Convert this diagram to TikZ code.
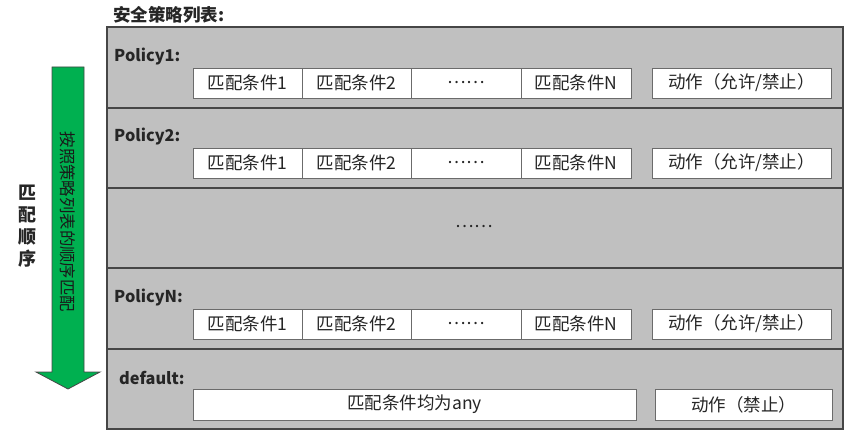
\documentclass[tikz,border=0pt]{standalone}
\usepackage{fontspec}
\usetikzlibrary{fit}
\setmainfont{Noto Sans CJK SC}
\definecolor{panel}{RGB}{192,192,192}
\definecolor{edge}{RGB}{70,70,70}
\definecolor{arrowgreen}{RGB}{0,176,80}
\tikzset{
  row/.style={draw=edge, line width=1.2pt, fill=panel},
  cell/.style={draw=edge!80, line width=0.8pt, fill=white, inner sep=0pt},
  ctext/.style={font=\fontsize{17.5}{19}\selectfont, text=black!85, inner sep=0pt},
  lbl/.style={anchor=west, font=\fontsize{16.3}{18}\selectfont\bfseries, text=black!85, inner sep=0pt},
}
\begin{document}
\begin{tikzpicture}[x=1pt,y=-1pt]
\useasboundingbox (0,0) rectangle (865,438);
% rows
\draw[row] (107,27) rectangle (843,108);
\draw[row] (107,108) rectangle (843,188);
\draw[row] (107,188) rectangle (843,268);
\draw[row] (107,268) rectangle (843,349);
\draw[row] (107,349) rectangle (843,429);
% title
\node[anchor=west, inner sep=0pt, font=\fontsize{17.5}{19}\selectfont\bfseries, text=black!85] (title) at (113,15) {安全策略列表:};
% policy rows
\foreach \n/\y/\lab in {1/57/Policy1:, 2/137/Policy2:, 3/298/PolicyN:}{
  \node[lbl] (p\n) at (114,\y) {\lab};
  \pgfmathsetmacro{\ytop}{\y+11}
  \pgfmathsetmacro{\ybot}{\y+41}
  \node[cell, fit={(193,\ytop) (302,\ybot)}] (c\n a) {};
  \node[cell, fit={(302,\ytop) (411,\ybot)}] (c\n b) {};
  \node[cell, fit={(411,\ytop) (521,\ybot)}] (c\n c) {};
  \node[cell, fit={(521,\ytop) (631,\ybot)}] (c\n d) {};
  \node[cell, fit={(652,\ytop) (831,\ybot)}] (c\n e) {};
  \node[ctext] at (c\n a) {匹配条件1};
  \node[ctext] at (c\n b) {匹配条件2};
  \node[ctext] at (c\n c) {……};
  \node[ctext] at (c\n d) {匹配条件N};
  \node[ctext] at (c\n e) {动作（允许/禁止）};
}
\node[ctext] (mid) at (474,227) {……};
% default row
\node[lbl] (pd) at (119,378) {default:};
\node[cell, fit={(193,389) (636,420)}] (da) {};
\node[cell, fit={(655,389) (832,420)}] (db) {};
\node[ctext] at (da) {匹配条件均为any};
\node[ctext] at (db) {动作（禁止）};
% arrow
\draw[draw=edge, line width=0.8pt, fill=arrowgreen, line join=miter]
  (52,67) -- (84,67) -- (84,372) -- (100,372) -- (68,389) -- (36,372) -- (52,372) -- cycle;
\node[rotate=-90, font=\fontsize{16.4}{18}\selectfont, text=black!90] (arrtext) at (68,222) {按照策略列表的顺序匹配};
% side label
\node[align=center, font=\fontsize{18}{22}\selectfont\bfseries, text=black!85] (side) at (28,226) {匹\\配\\顺\\序};
\end{tikzpicture}
\end{document}
